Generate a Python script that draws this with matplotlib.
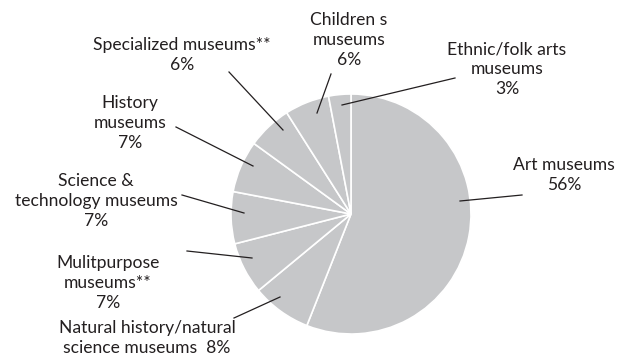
import matplotlib
matplotlib.use("Agg")
import matplotlib.pyplot as plt

# museum types, clockwise from 12 o'clock
labels = ["Art museums\n56%",
          "Natural history/natural\nscience museums  8%",
          "Mulitpurpose\nmuseums**\n7%",
          "Science &\ntechnology museums\n7%",
          "History\nmuseums\n7%",
          "Specialized museums**\n6%",
          "Children s\nmuseums\n6%",
          "Ethnic/folk arts\nmuseums\n3%"]
shares = [56, 8, 7, 7, 7, 6, 6, 3]

# label block centres and leader lines (pixels from top-left)
label_xy = [(564, 175), (147, 338), (108, 283), (96, 201),
            (130, 123), (182, 55), (349, 40), (507, 69)]
leader_from = [(522, 195), (234, 318), (187, 251), (182, 195),
               (176, 127), (229, 72), (331, 74), (455, 78)]
leader_to = [(460, 201), (280, 297), (252, 258), (244, 213),
             (253, 166), (283, 130), (317, 113), (342, 105)]

W, H = 629, 360
fig = plt.figure(figsize=(W / 100, H / 100), dpi=100)
ax = fig.add_axes([0, 0, 1, 1])

ax.pie(shares, startangle=90, counterclock=False,
       center=(351, H - 214), radius=120, frame=True,
       colors=["#c6c7c9"] * len(shares),
       wedgeprops=dict(edgecolor="white", linewidth=1.2))

ax.set_xlim(0, W)
ax.set_ylim(0, H)
ax.axis("off")

for txt, (x, y) in zip(labels, label_xy):
    ax.text(x, H - y, txt, ha="center", va="center", fontsize=12.6,
            family="Lato", color="#231f20", linespacing=1.28)

for (x0, y0), (x1, y1) in zip(leader_from, leader_to):
    ax.plot([x0, x1], [H - y0, H - y1], color="#231f20", lw=0.9)

fig.savefig("out.png", dpi=100)
